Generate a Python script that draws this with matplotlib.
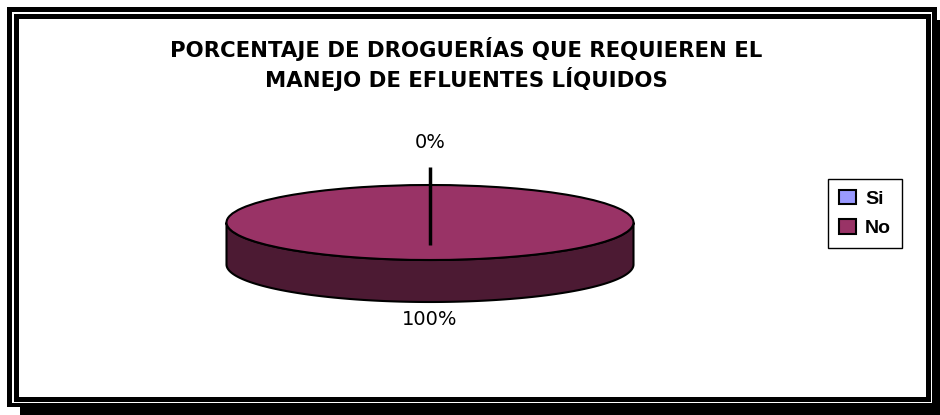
#!/usr/bin/env python3
# Porcentaje de droguerias - pie 3D estilo Excel

import numpy as np
import matplotlib
matplotlib.use('Agg')
import matplotlib.pyplot as plt
from matplotlib.patches import Rectangle, Polygon

OUTPUTFILE = "out.png"

## datos
labels = ["Si", "No"]
values = [0, 100]
top_colors = ["#9999FF", "#993366"]
side_colors = ["#4D4D80", "#4C1A33"]
title = "PORCENTAJE DE DROGUERÍAS QUE REQUIEREN EL\nMANEJO DE EFLUENTES LÍQUIDOS"

W, H = 940, 415


def px(x, y):
    """pixel (from top-left) -> figure fraction"""
    return x / W, 1 - y / H


def box(fig, x0, y0, x1, y1, color):
    fx, fy = px(x0, y1)
    fig.add_artist(Rectangle((fx, fy), (x1 - x0) / W, (y1 - y0) / H,
                             transform=fig.transFigure, facecolor=color,
                             edgecolor='none', zorder=-10))


def front_ranges(t1, t2):
    """parts of [t1, t2] (deg) on the front half of the ellipse"""
    out = []
    for k in range(-2, 3):
        a, b = 180 + 360 * k, 360 + 360 * k
        lo, hi = max(a, t1), min(b, t2)
        if hi > lo:
            out.append((lo, hi))
    return out


def main():
    fig = plt.figure(figsize=(W / 100, H / 100), dpi=100)
    fig.patch.set_facecolor('white')

    # marco doble con sombra
    box(fig, 20, 20, 940, 415, 'black')
    box(fig, 7, 7, 937, 407, 'black')
    box(fig, 12, 12, 932, 403, 'white')
    box(fig, 14, 14, 931, 402, 'black')
    box(fig, 19, 19, 926, 397, 'white')

    # ejes del pie: rx = 203.5 px, ry = 37.5 px
    rx, ry = 203.5, 37.5
    depth = 42 / ry
    l, b = px(180, 340)
    ax = fig.add_axes([l, b, 500 / W, 220 / H])

    wedges, _ = ax.pie(values, colors=top_colors, startangle=90,
                       counterclock=False, radius=1,
                       wedgeprops=dict(edgecolor='black', linewidth=1.5))
    ax.set_aspect('auto')
    ax.set_xlim(-250 / rx, 250 / rx)
    ax.set_ylim(-117.5 / ry, 102.5 / ry)
    for w in wedges:
        w.set_zorder(3)

    # lado del pie
    for w, sc in zip(wedges, side_colors):
        for lo, hi in front_ranges(w.theta1, w.theta2):
            t = np.radians(np.linspace(lo, hi, 200))
            xs = np.cos(t)
            ys = np.sin(t)
            pts = np.concatenate([np.column_stack([xs, ys]),
                                  np.column_stack([xs[::-1], ys[::-1] - depth])])
            ax.add_patch(Polygon(pts, closed=True, facecolor=sc,
                                 edgecolor='black', linewidth=1.5, zorder=2))

    # etiquetas de porcentaje
    total = float(sum(values))
    for w, v in zip(wedges, values):
        mid = np.radians((w.theta1 + w.theta2) / 2)
        txt = "%d%%" % round(100 * v / total)
        if np.sin(mid) > 0:
            ax.text(np.cos(mid) * 2.12, np.sin(mid) * 2.12, txt, ha='center',
                    va='center', fontsize=14, family='DejaVu Sans', zorder=5)
            if v / total < 0.05:
                ax.plot([np.cos(mid) * 1.48, -np.cos(mid) * 0.6],
                        [np.sin(mid) * 1.48, -np.sin(mid) * 0.6],
                        color='black', linewidth=2.5, zorder=4,
                        solid_capstyle='butt')
        else:
            ax.text(np.cos(mid) * 1.0, np.sin(mid) * 1.48 - depth, txt,
                    ha='center', va='center', fontsize=14,
                    family='DejaVu Sans', zorder=5)

    # titulo
    tx, ty = px(466, 64)
    fig.text(tx, ty, title, ha='center', va='center', fontsize=15.3,
             fontweight='bold', family='DejaVu Sans', linespacing=1.31)

    # leyenda
    lx, ly = px(865, 213.5)
    leg = fig.legend(wedges, labels, loc='center', bbox_to_anchor=(lx, ly),
                     fancybox=False, framealpha=1, edgecolor='black',
                     prop=dict(family='Liberation Sans', weight='bold', size=14),
                     handlelength=0.9, handleheight=0.75, handletextpad=0.45,
                     labelspacing=0.6, borderpad=0.55, borderaxespad=0)
    leg.get_frame().set_linewidth(1)

    fig.savefig(OUTPUTFILE, dpi=100)


if __name__ == "__main__":
    main()
